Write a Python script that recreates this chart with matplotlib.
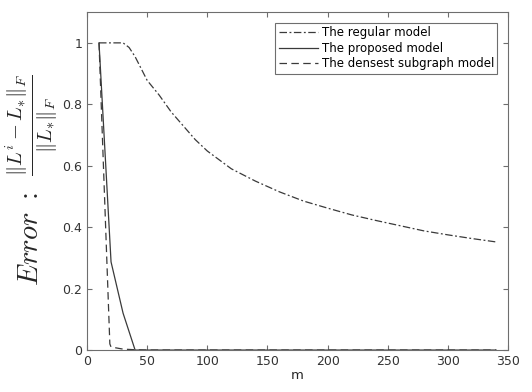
import numpy as np
import matplotlib.pyplot as plt

plt.rcParams['mathtext.fontset'] = 'cm'

m_reg = [10, 20, 30, 35, 40, 50, 60, 70, 80, 90, 100, 120, 140, 160, 180, 200,
         220, 240, 260, 280, 300, 320, 340]
err_reg = [1.0, 1.0, 1.0, 0.985, 0.955, 0.878, 0.83, 0.775, 0.73, 0.685, 0.648,
           0.59, 0.55, 0.515, 0.485, 0.462, 0.44, 0.422, 0.405, 0.388, 0.375,
           0.363, 0.352]

m_prop = [10, 20, 30, 40, 50, 100, 200, 340]
err_prop = [1.0, 0.287, 0.12, 0.0, 0.0, 0.0, 0.0, 0.0]

m_dense = [10, 19, 20, 30, 40, 50, 100, 200, 340]
err_dense = [1.0, 0.02, 0.01, 0.003, 0.001, 0.0, 0.0, 0.0, 0.0]

fig = plt.figure(figsize=(5.32, 3.92), dpi=100)
ax = fig.add_axes([0.1635, 0.107, 0.7915, 0.862])

lc = '#3a3a3a'
ax.plot(m_reg, err_reg, color=lc, lw=0.9, linestyle=(0, (6, 2, 1.5, 2)), label='The regular model')
ax.plot(m_prop, err_prop, color=lc, lw=0.9, linestyle='-', label='The proposed model')
ax.plot(m_dense, err_dense, color=lc, lw=0.9, linestyle=(0, (6, 3.5)), label='The densest subgraph model')

ax.set_xlim(0, 350)
ax.set_ylim(0, 1.1)
ax.set_xticks(np.arange(0, 351, 50))
ax.set_yticks([0, 0.2, 0.4, 0.6, 0.8, 1])
ax.set_yticklabels(['0', '0.2', '0.4', '0.6', '0.8', '1'])
ax.tick_params(direction='in', top=True, right=True, length=3.5, width=0.8,
               colors='#6e6e6e', labelcolor='#333333', labelsize=9)
for s in ax.spines.values():
    s.set_color('#6e6e6e')
    s.set_linewidth(0.8)

ax.set_xlabel('m', fontsize=9.5, color='#262626', labelpad=1)

# y label drawn in two pieces: big "Error :" and the fraction above it
fig.text(0.0564, 0.390, r'$Error\ :$', rotation=90, ha='center', va='center',
         fontsize=20.5, color='#262626')
fig.text(0.060, 0.681, r'$\frac{\|L^{i}-L_{*}\|_F}{\|L_{*}\|_F}$', rotation=90,
         ha='center', va='center', fontsize=21, color='#262626')

leg = ax.legend(loc='upper right', fontsize=8.5, fancybox=False, framealpha=1,
                edgecolor='#6e6e6e', handlelength=3.3, handletextpad=0.3,
                borderpad=0.3, labelspacing=0.2, borderaxespad=0.9)
leg.get_frame().set_linewidth(0.8)

fig.savefig('out.png', dpi=100)
